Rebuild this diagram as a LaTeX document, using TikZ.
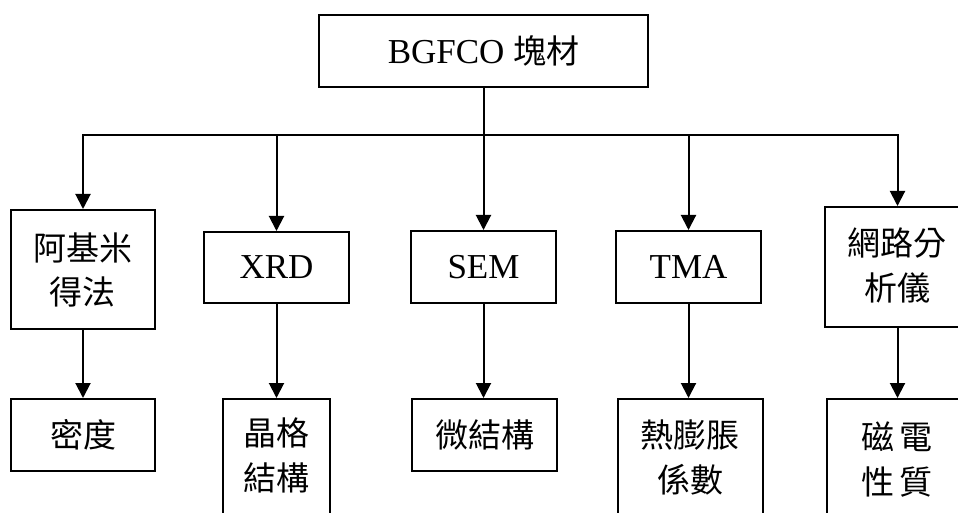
\documentclass[tikz,border=0pt]{standalone}
\usepackage{fontspec}
\setmainfont{Liberation Serif}
\newfontfamily\cjk{Noto Sans CJK TC}
\usetikzlibrary{arrows.meta}

\tikzset{
  box/.style={draw, line width=2pt, rectangle, inner sep=0pt, align=center,
    font=\fontsize{35}{44}\selectfont},
  lbl/.style={inner sep=0pt, align=center, font=\fontsize{33}{45}\selectfont\cjk},
  link/.style={line width=2pt},
  arr/.style={line width=2pt, -{Triangle[width=15pt,length=15pt]}}
}

\begin{document}
\begin{tikzpicture}[x=1pt, y=-1pt]
  \useasboundingbox (0,0) rectangle (958,513);
  \clip (0,0) rectangle (958,513);

  % root
  \node[box, minimum width=329pt, minimum height=72pt] (root) at (483.5,51)
    {BGFCO {\cjk\fontsize{33}{44}\selectfont 塊材}};

  % first row: measurement methods
  \node[box, minimum width=144pt, minimum height=119pt, font=\fontsize{33}{44}\selectfont\cjk] (arch) at (83,269.5)
    {阿基米\\得法};
  \node[box, minimum width=145pt, minimum height=71pt] (xrd) at (276.5,267.5) {XRD};
  \node[box, minimum width=145pt, minimum height=72pt] (sem) at (483.5,267) {SEM};
  \node[box, minimum width=145pt, minimum height=72pt] (tma) at (688.5,267) {TMA};
  \node[box, minimum width=145pt, minimum height=120pt] (vna) at (897.5,267) {};
  \node[lbl] (vnatxt) at (897,265) {網路分\\析儀};

  % second row: measured properties
  \node[box, minimum width=144pt, minimum height=72pt, font=\fontsize{33}{44}\selectfont\cjk] (dens) at (83,435) {密度};
  \node[box, minimum width=107pt, minimum height=131pt] (latt) at (276.5,464.5) {};
  \node[lbl] (latttxt) at (276,455) {晶格\\結構};
  \node[box, minimum width=145pt, minimum height=72pt, font=\fontsize{33}{44}\selectfont\cjk] (micro) at (484.5,435) {微結構};
  \node[box, minimum width=145pt, minimum height=131pt] (cte) at (690.5,464.5) {};
  \node[lbl] (ctetxt) at (690,457) {熱膨脹\\係數};
  \node[box, minimum width=143pt, minimum height=131pt] (mag) at (898.5,464.5) {};
  \node[lbl] (magtxt) at (897,460) {磁\,電\\性\,質};

  % distribution bus
  \coordinate (bus) at (483.5,135);
  \draw[link] (root.south) -- (root.south |- bus);
  \draw[link, line cap=rect] (arch.north |- bus) -- (vna.north |- bus);
  \foreach \n in {arch,xrd,sem,tma,vna}
    \draw[arr] (\n.north |- bus) -- (\n.north);

  % method to property
  \draw[arr] (arch.south) -- (arch.south |- dens.north);
  \draw[arr] (xrd.south) -- (xrd.south |- latt.north);
  \draw[arr] (sem.south) -- (sem.south |- micro.north);
  \draw[arr] (tma.south) -- (tma.south |- cte.north);
  \draw[arr] (vna.south) -- (vna.south |- mag.north);
\end{tikzpicture}
\end{document}
